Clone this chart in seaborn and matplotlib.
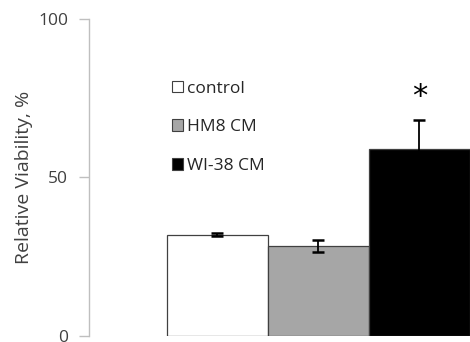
import matplotlib
matplotlib.use("Agg")
import matplotlib.pyplot as plt
import seaborn as sns
import pandas as pd

categories = ["control", "HM8 CM", "WI-38 CM"]
values = [31.9, 28.4, 59.0]
errors = [0.5, 1.8, 9.0]
colors = ["#FFFFFF", "#A6A6A6", "#000000"]
yticks = [0, 50, 100]
ylabel = "Relative Viability, %"
signif = ["", "", "*"]

sns.set_theme(style="white")
plt.rcParams["font.family"] = ["Open Sans", "DejaVu Sans"]

df = pd.DataFrame({"group": categories, "value": values})

fig = plt.figure(figsize=(4.7, 3.42), dpi=100)
ax = fig.add_axes([89 / 470, 1 - 336 / 342, 381 / 470, 317 / 342])

sns.barplot(data=df, x="group", y="value", hue="group", palette=colors,
            dodge=False, width=1.0, edgecolor="#404040", linewidth=0.9,
            legend=False, ax=ax)

for p, v, e, s in zip(ax.patches, values, errors, signif):
    cx = p.get_x() + p.get_width() / 2
    ax.errorbar(cx, v, yerr=e, fmt="none", ecolor="black", elinewidth=1.3,
                capsize=4, capthick=1.8)
    if s:
        ax.text(cx, v + e + 7.5, s, ha="center", va="center", fontsize=22,
                color="black", family="DejaVu Sans")

ax.set_xlim(-1.27, 2.5)
ax.set_ylim(0, 100)
ax.set_yticks(yticks)
ax.set_yticklabels([str(t) for t in yticks], fontsize=12.5, color="#404040")
ax.set_xticks([])
ax.set_xlabel("")
ax.set_ylabel(ylabel, fontsize=14, color="#404040")
ax.yaxis.set_label_coords(-0.147, 0.5)

for side in ["top", "right", "bottom"]:
    ax.spines[side].set_visible(False)
ax.spines["left"].set_color("#BFBFBF")
ax.spines["left"].set_linewidth(1.0)
ax.tick_params(axis="y", direction="out", length=7, width=1.0,
               color="#BFBFBF", left=True, pad=8)

from matplotlib.patches import Patch
handles = [Patch(facecolor=c, edgecolor="#404040", linewidth=0.8) for c in colors]
ax.legend(handles, categories, loc="upper left", bbox_to_anchor=(0.2, 0.827),
          frameon=False, fontsize=12.5, handlelength=0.65, handleheight=0.65,
          handletextpad=0.2, labelspacing=1.3, borderaxespad=0,
          labelcolor="#262626")

fig.savefig("out.png", dpi=100)
